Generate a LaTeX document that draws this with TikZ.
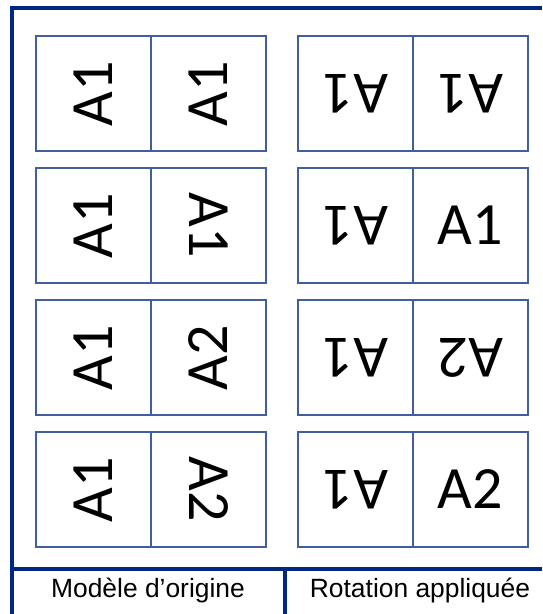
\documentclass[tikz,border=0pt]{standalone}
\usepackage{fontspec}
\newfontfamily\cellfont{Carlito}
\newfontfamily\labelfont{Liberation Sans}
\definecolor{framecol}{RGB}{0,40,130}
\definecolor{boxcol}{RGB}{65,95,160}
\begin{document}
\begin{tikzpicture}[x=1pt,y=-1pt,
  cell/.style={draw=boxcol, line width=1.6pt, minimum width=115pt, minimum height=115pt,
    inner sep=0pt, font=\cellfont\fontsize{60}{60}\selectfont, text=black},
  framel/.style={draw=framecol, line width=4pt},
  lab/.style={font=\labelfont\fontsize{26.4}{30}\selectfont, anchor=base, inner sep=0pt}]
\useasboundingbox (0,0) rectangle (542,614);
% frame
\draw[framel] (12,614) -- (12,8) -- (542,8);
\draw[framel] (12,569) -- (542,569);
\draw[framel] (285,569) -- (285,614);
% left column (Modele d'origine)
\node[cell, rotate=90]  (l1a) at (93.5,93.5)  {A1};
\node[cell, rotate=90]  (l1b) at (208.5,93.5) {A1};
\node[cell, rotate=90]  (l2a) at (93.5,225.5)  {A1};
\node[cell, rotate=-90] (l2b) at (208.5,225.5) {A1};
\node[cell, rotate=90]  (l3a) at (93.5,357.5)  {A1};
\node[cell, rotate=90]  (l3b) at (208.5,357.5) {A2};
\node[cell, rotate=90]  (l4a) at (93.5,489.5)  {A1};
\node[cell, rotate=-90] (l4b) at (208.5,489.5) {A2};
% right column (Rotation appliquee)
\node[cell, rotate=180] (r1a) at (355.5,93.5)  {A1};
\node[cell, rotate=180] (r1b) at (470.5,93.5)  {A1};
\node[cell, rotate=180] (r2a) at (355.5,225.5) {A1};
\node[cell]             (r2b) at (470.5,225.5) {A1};
\node[cell, rotate=180] (r3a) at (355.5,357.5) {A1};
\node[cell, rotate=180] (r3b) at (470.5,357.5) {A2};
\node[cell, rotate=180] (r4a) at (355.5,489.5) {A1};
\node[cell]             (r4b) at (470.5,489.5) {A2};
% labels
\node[lab] (lab1) at (148,597) {Modèle d’origine};
\node[lab] (lab2) at (420,597) {Rotation appliquée};
\end{tikzpicture}
\end{document}
